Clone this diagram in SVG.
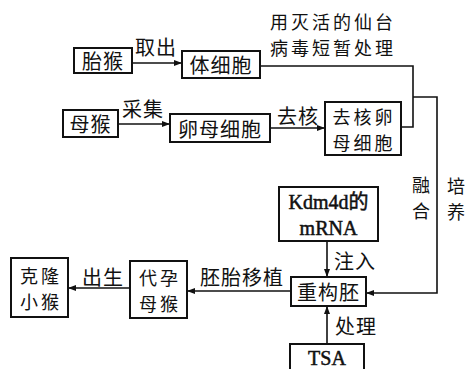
<svg xmlns="http://www.w3.org/2000/svg" width="466" height="369" viewBox="0 0 466 369">
<style>
.box{fill:#fff;stroke:#111;stroke-width:2}
.t{font-family:"Noto Sans CJK SC","Noto Sans",sans-serif;font-size:20px;fill:#111;text-anchor:middle;dominant-baseline:central;letter-spacing:1px}
.m{font-family:"Noto Sans CJK SC","Noto Sans",sans-serif;font-size:18px;fill:#111;text-anchor:middle;dominant-baseline:central;letter-spacing:3px}
.v{font-family:"Noto Sans CJK SC","Noto Sans",sans-serif;font-size:18px;fill:#111;text-anchor:middle;dominant-baseline:central}
.s{font-family:"Liberation Serif","Noto Sans CJK SC",serif;font-size:20px;fill:#111;stroke:#111;stroke-width:0.5;text-anchor:middle;dominant-baseline:central}
.c{fill:none;stroke:#111;stroke-width:1.6}
</style>
<defs>
<marker id="ah" markerWidth="8" markerHeight="6" refX="7" refY="3" orient="auto" markerUnits="userSpaceOnUse">
<path d="M0,0 L8,3 L0,6 Z" fill="#111"/>
</marker>
</defs>
<rect width="466" height="369" fill="#fff"/>
<g id="connectors">
<path class="c" d="M132,63 H181" marker-end="url(#ah)"/>
<path class="c" d="M118,124 H169" marker-end="url(#ah)"/>
<path class="c" d="M270,128 H324" marker-end="url(#ah)"/>
<path class="c" d="M260,66 H413 V127 H401"/>
<path class="c" d="M413,97 H437 V293 H367" marker-end="url(#ah)"/>
<path class="c" d="M327,241 V276" marker-end="url(#ah)"/>
<path class="c" d="M327,344 V307" marker-end="url(#ah)"/>
<path class="c" d="M291,291 H188" marker-end="url(#ah)"/>
<path class="c" d="M130,288 H69" marker-end="url(#ah)"/>
<text class="t" x="156" y="46">取出</text>
<text class="t" x="143" y="108">采集</text>
<text class="t" x="298" y="115">去核</text>
<text class="m" x="333" y="21">用灭活的仙台</text>
<text class="m" x="333" y="47">病毒短暂处理</text>
<text class="v" x="421" y="184">融</text>
<text class="v" x="421" y="210">合</text>
<text class="v" x="456" y="185">培</text>
<text class="v" x="456" y="211">养</text>
<text class="t" x="355" y="260">注入</text>
<text class="t" x="356" y="325">处理</text>
<text class="t" x="242" y="276">胚胎移植</text>
<text class="t" x="103" y="276">出生</text>
</g>
<g id="taihou"><rect class="box" x="74" y="48" width="58" height="25"/><text class="t" x="103" y="60.5">胎猴</text></g>
<g id="tixibao"><rect class="box" x="182" y="51" width="78" height="27"/><text class="t" x="221" y="64.5">体细胞</text></g>
<g id="muhou"><rect class="box" x="63" y="110" width="55" height="27"/><text class="t" x="90.5" y="123.5">母猴</text></g>
<g id="luanmuxibao"><rect class="box" x="170" y="114" width="100" height="28"/><text class="t" x="220" y="128">卵母细胞</text></g>
<g id="quhe"><rect class="box" x="325" y="102" width="76" height="53"/><text class="m" x="364" y="115.5">去核卵</text><text class="m" x="364" y="141.5">母细胞</text></g>
<g id="kdm4d"><rect class="box" x="279" y="187" width="99" height="54"/><text class="s" x="328.5" y="202">Kdm4d的</text><text class="s" x="328.5" y="228">mRNA</text></g>
<g id="chonggoupei"><rect class="box" x="291" y="277" width="75" height="29"/><text class="t" x="328.5" y="291.5">重构胚</text></g>
<g id="tsa"><rect class="box" x="290" y="344" width="74" height="32"/><text class="s" x="327" y="358">TSA</text></g>
<g id="daiyun"><rect class="box" x="130" y="261" width="57" height="57"/><text class="m" x="160" y="276.5">代孕</text><text class="m" x="160" y="302.5">母猴</text></g>
<g id="kelong"><rect class="box" x="11" y="258" width="57" height="59"/><text class="m" x="41" y="274.5">克隆</text><text class="m" x="41" y="300.5">小猴</text></g>
</svg>
